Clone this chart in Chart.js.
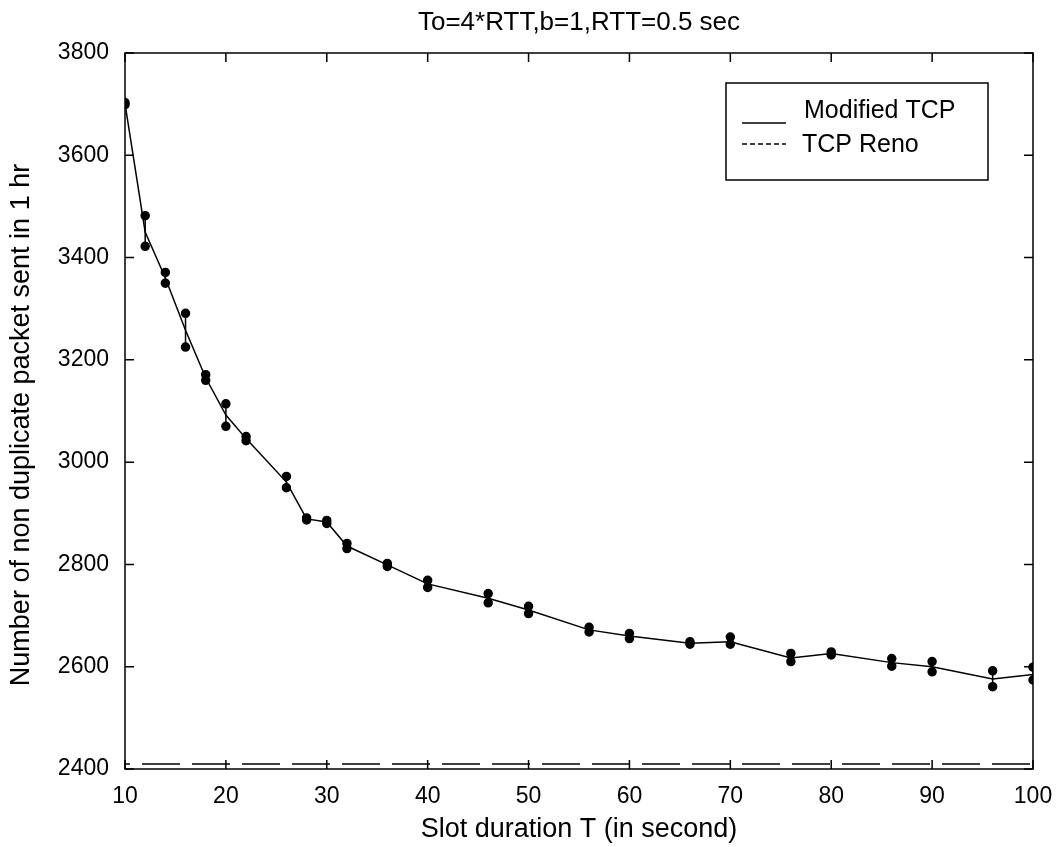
<!DOCTYPE html>
<html>
<head>
<meta charset="utf-8">
<title>To=4*RTT,b=1,RTT=0.5 sec</title>
<script src="https://cdn.jsdelivr.net/npm/chart.js@4.4.1/dist/chart.umd.min.js"></script>
<style>
  body { margin: 0; background: #fff; }
  canvas { display: block; }
</style>
</head>
<body>
<canvas id="chart" width="1060" height="847"></canvas>
<script>
// slot durations T (seconds)
const slotT = [10, 12, 14, 16, 18, 20, 22, 26, 28, 30, 32, 36, 40, 46, 50, 56, 60, 66, 70, 76, 80, 86, 90, 96, 100];
// Modified TCP: mean and error bar ends
const modMean = [3701, 3450, 3360, 3258, 3165, 3092, 3046, 2961, 2889, 2883, 2836, 2799, 2762, 2734, 2711, 2672, 2660, 2646, 2649, 2617, 2626, 2608, 2600, 2576, 2585];
const modLow  = [3699, 3422, 3350, 3225, 3160, 3070, 3042, 2950, 2887, 2880, 2831, 2796, 2755, 2725, 2704, 2668, 2655, 2644, 2644, 2610, 2623, 2601, 2590, 2561, 2574];
const modHigh = [3703, 3482, 3371, 3291, 3171, 3114, 3050, 2972, 2891, 2886, 2841, 2802, 2769, 2743, 2718, 2677, 2665, 2649, 2658, 2626, 2629, 2616, 2610, 2592, 2599];
// TCP Reno (flat)
const renoT = [10, 100];
const renoValue = [2410, 2410];

const titleText = 'To=4*RTT,b=1,RTT=0.5 sec';
const xLabel = 'Slot duration T (in second)';
const yLabel = 'Number of non duplicate packet sent in 1 hr';
const legendNames = ['Modified TCP', 'TCP Reno'];

const FONT = '"Liberation Sans", Arial, Helvetica, sans-serif';

// error bar points: low, high, then a gap
const errPoints = [];
slotT.forEach((t, i) => {
    errPoints.push({ x: t, y: modLow[i] });
    errPoints.push({ x: t, y: modHigh[i] });
    errPoints.push({ x: t, y: null });
});

// box, inward ticks, texts and legend like a matlab figure
const matlabFrame = {
    id: 'matlabFrame',
    afterDraw(chart) {
        const ctx = chart.ctx;
        const a = chart.chartArea;
        const xs = chart.scales.x;
        const ys = chart.scales.y;
        const tl = 9;

        ctx.save();
        ctx.strokeStyle = '#000';
        ctx.lineWidth = 1.5;
        ctx.strokeRect(a.left, a.top, a.right - a.left, a.bottom - a.top);

        ctx.beginPath();
        xs.ticks.forEach(t => {
            const px = xs.getPixelForValue(t.value);
            ctx.moveTo(px, a.bottom); ctx.lineTo(px, a.bottom - tl);
            ctx.moveTo(px, a.top); ctx.lineTo(px, a.top + tl);
        });
        ys.ticks.forEach(t => {
            const py = ys.getPixelForValue(t.value);
            ctx.moveTo(a.left, py); ctx.lineTo(a.left + tl, py);
            ctx.moveTo(a.right, py); ctx.lineTo(a.right - tl, py);
        });
        ctx.stroke();

        ctx.fillStyle = '#000';
        ctx.textAlign = 'center';
        ctx.textBaseline = 'alphabetic';
        ctx.font = '26px ' + FONT;
        ctx.fillText(titleText, (a.left + a.right) / 2, 30);
        ctx.font = '27px ' + FONT;
        ctx.fillText(xLabel, (a.left + a.right) / 2, 837);

        ctx.save();
        ctx.translate(22, 425);
        ctx.rotate(-Math.PI / 2);
        ctx.textBaseline = 'middle';
        ctx.fillText(yLabel, 0, 0);
        ctx.restore();

        // legend
        ctx.lineWidth = 1.5;
        ctx.strokeRect(726, 83, 262, 97);
        ctx.beginPath();
        ctx.moveTo(742, 123); ctx.lineTo(786, 123);
        ctx.stroke();
        ctx.setLineDash([5, 3]);
        ctx.beginPath();
        ctx.moveTo(742, 144); ctx.lineTo(786, 144);
        ctx.stroke();
        ctx.setLineDash([]);
        ctx.font = '25px ' + FONT;
        ctx.textAlign = 'left';
        ctx.fillText(legendNames[0], 804, 118);
        ctx.fillText(legendNames[1], 802, 152);
        ctx.restore();
    }
};

new Chart(document.getElementById('chart'), {
    type: 'line',
    data: {
        datasets: [
            {
                label: legendNames[0],
                data: slotT.map((t, i) => ({ x: t, y: modMean[i] })),
                borderColor: '#000',
                borderWidth: 1.5,
                pointRadius: 0,
                tension: 0
            },
            {
                label: 'error',
                data: errPoints,
                borderColor: '#000',
                borderWidth: 1.5,
                pointRadius: 4,
                pointBackgroundColor: '#000',
                pointBorderColor: '#000',
                spanGaps: false
            },
            {
                label: legendNames[1],
                data: renoT.map((t, i) => ({ x: t, y: renoValue[i] })),
                borderColor: '#000',
                borderWidth: 1.5,
                borderDash: [38, 12],
                borderDashOffset: 33,
                pointRadius: 0
            }
        ]
    },
    options: {
        responsive: false,
        animation: false,
        devicePixelRatio: 1,
        layout: { padding: { top: 53, right: 27, left: 0, bottom: 0 } },
        plugins: {
            legend: { display: false },
            title: { display: false },
            tooltip: { enabled: false }
        },
        scales: {
            x: {
                type: 'linear',
                min: 10,
                max: 100,
                grid: { display: false },
                border: { display: false },
                ticks: {
                    stepSize: 10,
                    color: '#000',
                    padding: 6,
                    font: { family: FONT, size: 23 },
                    maxRotation: 0,
                    callback: v => String(v)
                },
                afterFit: s => { s.height = 78; }
            },
            y: {
                min: 2400,
                max: 3800,
                grid: { display: false },
                border: { display: false },
                ticks: {
                    stepSize: 200,
                    color: '#000',
                    padding: 8,
                    font: { family: FONT, size: 23 },
                    callback: v => String(v)
                },
                afterFit: s => { s.width = 125; }
            }
        }
    },
    plugins: [matlabFrame]
});
</script>
</body>
</html>
